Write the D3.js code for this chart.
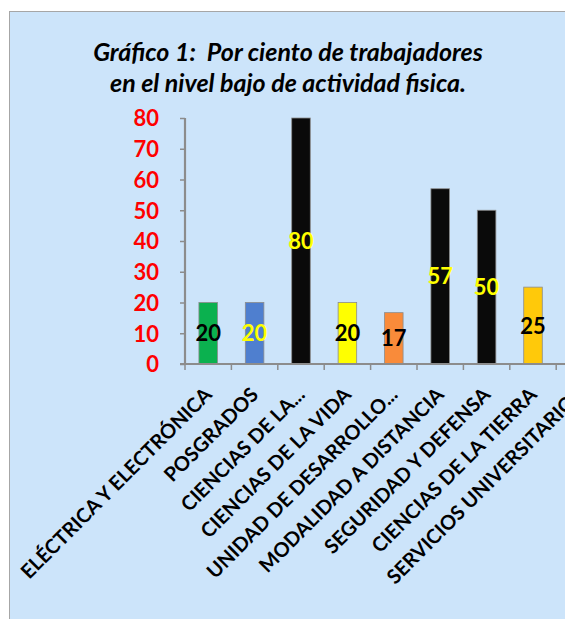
<!DOCTYPE html>
<html>
<head>
<meta charset="utf-8">
<script src="https://cdn.jsdelivr.net/npm/d3@7"></script>
<style>
  body { margin: 0; background: #fff; overflow: hidden; }
  svg { display: block; font-family: Lato, "Open Sans", sans-serif; }
</style>
</head>
<body>
<div id="chart"></div>
<script>
const categories = [
  "ELÉCTRICA Y ELECTRÓNICA",
  "POSGRADOS",
  "CIENCIAS DE LA...",
  "CIENCIAS DE LA VIDA",
  "UNIDAD DE DESARROLLO...",
  "MODALIDAD A DISTANCIA",
  "SEGURIDAD Y DEFENSA",
  "CIENCIAS DE LA TIERRA",
  "SERVICIOS UNIVERSITARIOS"
];
const values = [20, 20, 80, 20, 16.7, 57, 50, 25, null];
const barColors = ["#0bb14f", "#4f7fcf", "#0a0a0a", "#ffff00", "#f98b3a", "#0a0a0a", "#0a0a0a", "#ffc90a", "#cccccc"];
const labelColors = ["#000", "#ffff00", "#ffff00", "#000", "#000", "#ffff00", "#ffff00", "#000", "#000"];
const yTicks = [0, 10, 20, 30, 40, 50, 60, 70, 80];
const titleLines = ["Gráfico 1:  Por ciento de trabajadores", "en el nivel bajo de actividad fisica."];

const W = 565, H = 619;
const margin = {top: 118, left: 185, bottom: 255};
const bandW = 46.4;

const svg = d3.select("#chart").append("svg")
    .attr("width", W)
    .attr("height", H);

// panel
svg.append("rect")
    .attr("x", 9.5).attr("y", 11.5)
    .attr("width", W).attr("height", H)
    .attr("fill", "#cce4fa")
    .attr("stroke", "#a6a6a6");

const x = d3.scaleBand()
    .domain(categories)
    .range([margin.left, margin.left + bandW * categories.length])
    .paddingInner(0.6).paddingOuter(0.3);
const y = d3.scaleLinear().domain([0, 80]).range([364, margin.top]);

// title
svg.append("g").selectAll("text")
    .data(titleLines)
    .enter().append("text")
    .attr("x", 288)
    .attr("y", (d, i) => 61 + i * 31)
    .attr("text-anchor", "middle")
    .style("white-space", "pre")
    .style("font-size", "25px")
    .style("font-weight", "bold")
    .style("font-style", "italic")
    .text(d => d);

const rows = categories.map((c, i) => ({c, v: values[i], i})).filter(d => d.v != null);

// bars
svg.selectAll(".bar")
    .data(rows)
    .enter().append("rect")
    .attr("x", d => x(d.c))
    .attr("y", d => y(d.v))
    .attr("width", x.bandwidth())
    .attr("height", d => y(0) - y(d.v))
    .attr("fill", d => barColors[d.i])
    .attr("stroke", "#8c8c8c")
    .attr("stroke-width", 0.8);

// data labels
svg.selectAll(".lbl")
    .data(rows)
    .enter().append("text")
    .attr("x", d => x(d.c) + x.bandwidth() / 2)
    .attr("y", d => (y(0) + y(d.v)) / 2 + 8)
    .attr("text-anchor", "middle")
    .style("font-size", "22px")
    .style("font-weight", "bold")
    .attr("fill", d => labelColors[d.i])
    .text(d => d3.format(".0f")(d.v));

// y axis
const yAxis = svg.append("g")
    .attr("transform", `translate(${margin.left},0)`)
    .call(d3.axisLeft(y).tickValues(yTicks).tickSize(5).tickPadding(21));
yAxis.select(".domain").attr("stroke", "#8c8c8c").attr("stroke-width", 2.2)
    .attr("d", `M0,${y(80)}V${y(0)}`);
yAxis.selectAll(".tick line").attr("stroke", "#8c8c8c").attr("stroke-width", 1.5);
yAxis.selectAll(".tick text")
    .attr("fill", "#ff0000")
    .style("font-size", "22px")
    .style("font-weight", "bold")
    .style("font-family", "Lato, sans-serif")
    .attr("dy", "0.36em");

// x axis
const xAxis = svg.append("g")
    .attr("transform", `translate(0,${y(0)})`);
xAxis.append("line")
    .attr("x1", margin.left - 5).attr("x2", W)
    .attr("stroke", "#8c8c8c").attr("stroke-width", 2.2);
xAxis.selectAll(".xt")
    .data(d3.range(categories.length))
    .enter().append("line")
    .attr("x1", i => margin.left + i * bandW)
    .attr("x2", i => margin.left + i * bandW)
    .attr("y1", 0).attr("y2", 6)
    .attr("stroke", "#8c8c8c").attr("stroke-width", 1.5);

xAxis.selectAll(".xl")
    .data(categories)
    .enter().append("text")
    .attr("transform", d => `translate(${x(d) + x.bandwidth() / 2 + 5},32) rotate(-45)`)
    .attr("text-anchor", "end")
    .style("font-size", "20px")
    .style("font-weight", "bold")
    .attr("fill", "#000")
    .text(d => d);
</script>
</body>
</html>
